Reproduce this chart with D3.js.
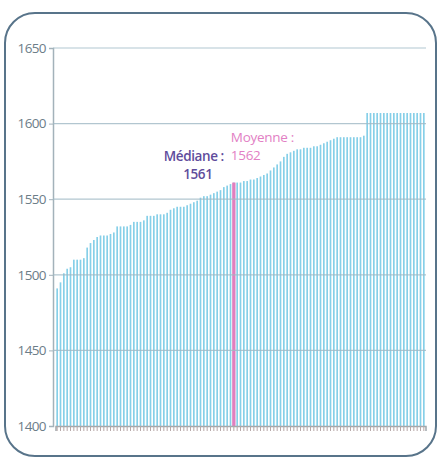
<!DOCTYPE html>
<html lang="fr">
    <head>
        <meta charset="utf-8">
        <title>Médiane et moyenne</title>
        <style>
            body {
                margin: 0;
                background-color: white;
            }
            svg {
                display: block;
            }
            text {
                font-family: "Open Sans", "Noto Sans", sans-serif;
            }
        </style>
        <script src="https://d3js.org/d3.v7.min.js"></script>
    </head>
    <body>
    <script>

        // values, sorted
        let values = [
            1491, 1495, 1501, 1504, 1505, 1510, 1510, 1510, 1511, 1518,
            1521, 1523, 1525, 1526, 1526, 1526, 1527, 1528, 1532, 1532,
            1532, 1532, 1533, 1535, 1535, 1535, 1536, 1539, 1539, 1539,
            1540, 1540, 1540, 1541, 1543, 1544, 1545, 1545, 1545, 1546,
            1547, 1548, 1549, 1551, 1552, 1552, 1553, 1554, 1555, 1556,
            1558, 1559, 1560, 1561, 1561, 1561, 1562, 1562, 1563, 1563,
            1564, 1565, 1566, 1567, 1569, 1571, 1573, 1575, 1578, 1580,
            1581, 1582, 1583, 1583, 1584, 1584, 1584, 1585, 1585, 1586,
            1587, 1588, 1589, 1590, 1591, 1591, 1591, 1591, 1591, 1591,
            1591, 1591, 1592, 1607, 1607, 1607, 1607, 1607, 1607, 1607,
            1607, 1607, 1607, 1607, 1607, 1607, 1607, 1607, 1607, 1607,
            1607
        ]
        let yTicks = [1400, 1450, 1500, 1550, 1600, 1650]
        let medianIndex = 53
        let medianLabel = ["Médiane :", "1561"]
        let meanLabel = ["Moyenne :", "1562"]

        let width = 441
        let height = 459
        let svg, xScale, yScale

        let drawCanvas = () => {
            svg = d3.select("body")
                .append("svg")
                .attr("width", width)
                .attr("height", height)

            svg.append("rect")
                .attr("x", 5)
                .attr("y", 13)
                .attr("width", 431)
                .attr("height", 443)
                .attr("rx", 30)
                .attr("fill", "white")
                .attr("stroke", "#58748a")
                .attr("stroke-width", 2)
        }

        let generateScales = () => {
            xScale = d3.scaleBand()
                .domain(values.map((d, i) => i))
                .range([55.5, 425.5])
            yScale = d3.scaleLinear()
                .domain([1400, 1650])
                .range([426, 48])
        }

        let generateAxes = () => {
            let yAxis = d3.axisLeft(yScale)
                .tickValues(yTicks)
                .tickSize(4)
                .tickPadding(3)
                .tickFormat((d) => d)

            let gy = svg.append("g")
                .attr("transform", "translate(53,0)")
                .call(yAxis)
            gy.select(".domain").attr("stroke", "#a3b2ba").attr("stroke-width", 1.5)
            gy.selectAll(".tick line").attr("stroke", "#a3b2ba")
            gy.selectAll(".tick text")
                .attr("fill", "#6c7d88")
                .attr("font-size", 13.5)
                .attr("letter-spacing", -0.6)
        }

        let drawGrid = () => {
            svg.append("g")
                .selectAll("line")
                .data(yTicks.filter((d) => d > 1400))
                .enter()
                .append("line")
                .attr("x1", 53)
                .attr("x2", 426)
                .attr("y1", (d) => yScale(d))
                .attr("y2", (d) => yScale(d))
                .attr("stroke", "#9fb8c4")
                .attr("stroke-opacity", 0.8)
                .attr("stroke-width", 1.2)
        }

        let generateBars = () => {
            let bw = xScale.bandwidth()
            svg.append("g")
                .selectAll("rect")
                .data(values)
                .enter()
                .append("rect")
                .attr("x", (d, i) => xScale(i) + bw * 0.25)
                .attr("width", bw * 0.5)
                .attr("y", (d) => yScale(d))
                .attr("height", (d) => yScale(1400) - yScale(d))
                .attr("fill", "#86cfe8")

            svg.append("rect")
                .attr("x", xScale(medianIndex))
                .attr("width", bw)
                .attr("y", yScale(values[medianIndex]))
                .attr("height", yScale(1400) - yScale(values[medianIndex]))
                .attr("fill", "#e07fbf")

            // bottom axis with a tick per bar
            let xAxis = d3.axisBottom(xScale)
                .tickSize(5)
                .tickFormat("")
            let gx = svg.append("g")
                .attr("transform", `translate(0,${yScale(1400)})`)
                .call(xAxis)
            gx.select(".domain").attr("stroke", "#a0a8ac").attr("stroke-width", 1.5)
            gx.selectAll(".tick line").attr("stroke", "#b7a8a8")
        }

        let addLabels = () => {
            let xm = xScale(medianIndex) + xScale.bandwidth() / 2

            svg.append("g")
                .selectAll("text")
                .data(medianLabel)
                .enter()
                .append("text")
                .attr("x", (d, i) => i == 0 ? xm - 40 : xm - 36)
                .attr("y", (d, i) => 161 + i * 18)
                .attr("text-anchor", "middle")
                .attr("font-size", 13.5)
                .attr("font-weight", 600)
                .attr("fill", "#5f4c9c")
                .attr("letter-spacing", -0.4)
                .text((d) => d)

            svg.append("g")
                .selectAll("text")
                .data(meanLabel)
                .enter()
                .append("text")
                .attr("x", xm - 3)
                .attr("y", (d, i) => 142 + i * 18)
                .attr("font-size", 13.5)
                .attr("fill", "#e27fc4")
                .attr("letter-spacing", -0.3)
                .text((d) => d)
        }

        drawCanvas()
        generateScales()
        generateAxes()
        generateBars()
        drawGrid()
        addLabels()
    </script>
    </body>
</html>
